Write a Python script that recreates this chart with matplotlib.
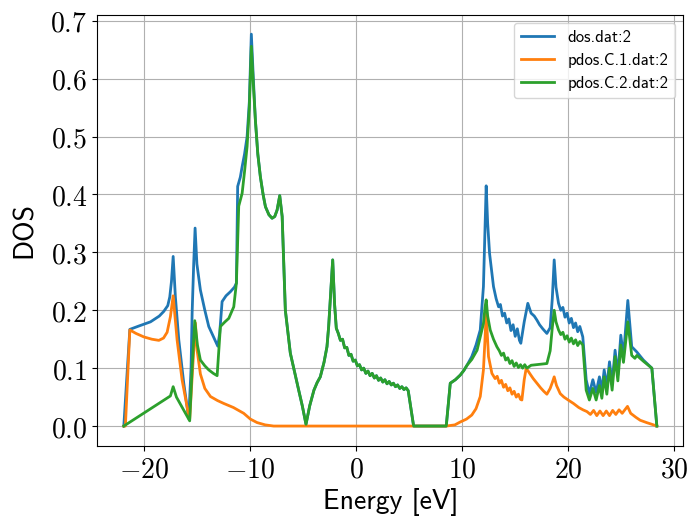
import matplotlib
matplotlib.use('Agg')
import matplotlib.pyplot as plt
from matplotlib.ticker import FuncFormatter

plt.rcParams['mathtext.fontset'] = 'cm'

# total DOS, left part (below the shared valence band region)
dos_left_e = [-21.95, -21.38, -20.5, -19.43, -18.6, -18.18, -17.8, -17.61, -17.45, -17.29,
              -17.08, -16.76, -16.29, -15.82, -15.6, -15.5, -15.35, -15.22, -15.05, -14.72,
              -14.3, -13.93, -13.5, -13.08, -12.9, -12.67, -12.3, -11.89, -11.5, -11.32,
              -11.2, -10.95, -10.78, -10.55, -10.31, -10.1, -9.91, -9.72]
dos_left_d = [0.0, 0.167, 0.173, 0.180, 0.190, 0.198, 0.208, 0.223, 0.250, 0.293,
              0.223, 0.149, 0.074, 0.013, 0.10, 0.195, 0.281, 0.342, 0.28, 0.235,
              0.200, 0.172, 0.155, 0.138, 0.160, 0.215, 0.225, 0.232, 0.240, 0.247,
              0.414, 0.430, 0.448, 0.470, 0.500, 0.560, 0.677, 0.600]

# C.2 projected, left part
pd2_left_e = [-21.95, -17.55, -17.29, -16.98, -15.73, -15.5, -15.25, -15.0, -14.72, -14.3,
              -13.93, -13.5, -13.14, -12.83, -12.4, -12.04, -11.57, -11.32, -11.1, -10.78,
              -10.55, -10.31, -10.1, -9.91, -9.72]
pd2_left_d = [0.0, 0.052, 0.068, 0.050, 0.009, 0.10, 0.182, 0.14, 0.114, 0.104,
              0.097, 0.091, 0.087, 0.172, 0.180, 0.186, 0.206, 0.247, 0.380, 0.402,
              0.440, 0.483, 0.550, 0.656, 0.590]

# region where dos and C.2 coincide
mid_e = [-9.53, -9.3, -9.06, -8.8, -8.58, -8.25, -7.95, -7.7, -7.48, -7.23,
         -7.0, -6.85, -6.7, -6.45, -6.23, -5.85, -5.44, -5.1, -4.75, -4.4,
         -4.0, -3.7, -3.4, -3.05, -2.77, -2.61, -2.45, -2.23, -2.05, -1.89,
         -1.7, -1.5, -1.3, -1.1, -0.9, -0.7, -0.5, -0.3, -0.1, 0.1,
         0.3, 0.5, 0.7, 0.9, 1.1, 1.3, 1.5, 1.7, 1.9, 2.1,
         2.3, 2.5, 2.7, 2.9, 3.1, 3.3, 3.5, 3.7, 3.9, 4.1,
         4.3, 4.5, 4.7, 4.9, 5.41, 8.49, 8.87, 9.35, 9.81, 10.15, 10.45]
mid_d = [0.529, 0.470, 0.431, 0.400, 0.379, 0.365, 0.359, 0.362, 0.373, 0.398,
         0.362, 0.280, 0.200, 0.160, 0.126, 0.095, 0.062, 0.035, 0.003, 0.035,
         0.062, 0.075, 0.085, 0.110, 0.137, 0.172, 0.220, 0.287, 0.210, 0.169,
         0.160, 0.148, 0.150, 0.135, 0.136, 0.122, 0.124, 0.112, 0.114, 0.104,
         0.106, 0.097, 0.100, 0.091, 0.095, 0.087, 0.091, 0.083, 0.087, 0.079,
         0.083, 0.076, 0.080, 0.073, 0.077, 0.071, 0.074, 0.068, 0.071, 0.065,
         0.068, 0.063, 0.066, 0.061, 0.0, 0.0, 0.074, 0.080, 0.088, 0.096, 0.105]

# total DOS, conduction part
dos_right_e = [10.9, 11.3, 11.7, 12.0, 12.15, 12.26, 12.4, 12.58, 12.95, 13.2,
               13.43, 13.6, 13.8, 14.0, 14.2, 14.4, 14.6, 14.8, 15.0, 15.2,
               15.4, 15.53, 15.85, 16.19, 16.5, 16.8, 17.05, 17.3, 17.6, 17.99,
               18.3, 18.5, 18.68, 18.85, 19.09, 19.3, 19.5, 19.7, 19.9, 20.1,
               20.3, 20.5, 20.7, 20.9, 21.1, 21.38, 21.7, 22.0, 22.33, 22.64,
               22.95, 23.18, 23.4, 23.65, 23.9, 24.15, 24.43, 24.69, 24.97, 25.22,
               25.63, 26.0, 26.48, 27.1, 27.9, 28.37]
dos_right_d = [0.120, 0.140, 0.166, 0.241, 0.340, 0.415, 0.350, 0.298, 0.241, 0.220,
               0.206, 0.210, 0.190, 0.195, 0.178, 0.185, 0.165, 0.175, 0.155, 0.168,
               0.148, 0.143, 0.180, 0.212, 0.195, 0.190, 0.183, 0.175, 0.168, 0.160,
               0.170, 0.220, 0.287, 0.240, 0.212, 0.200, 0.205, 0.188, 0.195, 0.178,
               0.186, 0.170, 0.178, 0.163, 0.172, 0.154, 0.080, 0.056, 0.080, 0.058,
               0.085, 0.062, 0.097, 0.068, 0.111, 0.074, 0.131, 0.088, 0.157, 0.120,
               0.217, 0.137, 0.128, 0.114, 0.100, 0.0]

# C.2 projected, conduction part
pd2_right_e = [10.9, 11.4, 12.0, 12.15, 12.26, 12.4, 12.64, 12.95, 13.27, 13.5,
               13.7, 13.9, 14.1, 14.3, 14.5, 14.7, 14.9, 15.1, 15.3, 15.5,
               15.7, 15.9, 16.1, 16.5, 17.0, 17.5, 17.99, 18.3, 18.5, 18.68,
               18.85, 19.09, 19.3, 19.5, 19.7, 19.9, 20.1, 20.3, 20.5, 20.7,
               20.9, 21.1, 21.38, 21.7, 22.0, 22.33, 22.64, 22.95, 23.18, 23.4,
               23.65, 23.9, 24.15, 24.43, 24.69, 24.97, 25.22, 25.63, 26.0, 26.3,
               26.48, 27.1, 27.9, 28.37]
pd2_right_d = [0.115, 0.131, 0.177, 0.205, 0.218, 0.190, 0.166, 0.150, 0.137, 0.130,
               0.122, 0.126, 0.114, 0.118, 0.108, 0.113, 0.103, 0.109, 0.101, 0.106,
               0.100, 0.106, 0.100, 0.105, 0.106, 0.107, 0.108, 0.130, 0.170, 0.200,
               0.180, 0.166, 0.158, 0.162, 0.150, 0.156, 0.145, 0.152, 0.142, 0.149,
               0.139, 0.146, 0.140, 0.062, 0.045, 0.065, 0.045, 0.070, 0.048, 0.085,
               0.055, 0.100, 0.062, 0.120, 0.078, 0.140, 0.110, 0.180, 0.122, 0.117,
               0.122, 0.112, 0.100, 0.0]

# C.1 projected
pd1_e = [-21.95, -21.8, -21.38, -20.8, -20.06, -19.3, -18.64, -18.2, -17.86, -17.55,
         -17.29, -16.92, -16.45, -15.82, -15.73, -15.45, -15.19, -15.03, -14.72, -14.3,
         -13.77, -13.1, -12.51, -11.6, -10.63, -10.0, -9.37, -8.6, -7.8, 8.49,
         9.3, 9.81, 10.4, 10.9, 11.3, 11.7, 12.0, 12.15, 12.26, 12.48,
         12.8, 13.1, 13.3, 13.5, 13.7, 13.9, 14.1, 14.3, 14.5, 14.7,
         14.9, 15.1, 15.3, 15.5, 15.63, 15.85, 16.04, 16.4, 16.7, 17.05,
         17.4, 17.7, 17.99, 18.3, 18.5, 18.68, 18.9, 19.25, 19.6, 20.0,
         20.5, 21.0, 21.4, 21.77, 22.1, 22.4, 22.7, 23.0, 23.3, 23.6,
         23.9, 24.2, 24.5, 24.8, 25.1, 25.35, 25.6, 25.9, 26.4, 26.8,
         27.4, 27.9, 28.37]
pd1_d = [0.0, 0.0, 0.166, 0.160, 0.154, 0.150, 0.148, 0.152, 0.162, 0.189,
         0.225, 0.149, 0.080, 0.018, 0.012, 0.100, 0.178, 0.131, 0.090, 0.065,
         0.051, 0.044, 0.039, 0.032, 0.022, 0.012, 0.006, 0.002, 0.0, 0.0,
         0.002, 0.007, 0.012, 0.019, 0.030, 0.051, 0.097, 0.150, 0.195, 0.120,
         0.091, 0.082, 0.086, 0.074, 0.079, 0.067, 0.072, 0.061, 0.066, 0.055,
         0.060, 0.050, 0.055, 0.046, 0.045, 0.080, 0.100, 0.090, 0.082, 0.074,
         0.066, 0.060, 0.055, 0.065, 0.075, 0.085, 0.070, 0.056, 0.050, 0.045,
         0.039, 0.032, 0.028, 0.025, 0.020, 0.027, 0.018, 0.026, 0.018, 0.026,
         0.018, 0.027, 0.020, 0.028, 0.022, 0.028, 0.034, 0.022, 0.015, 0.010,
         0.006, 0.003, 0.0]

dos_e = dos_left_e + mid_e + dos_right_e
dos_d = dos_left_d + mid_d + dos_right_d
pd2_e = pd2_left_e + mid_e + pd2_right_e
pd2_d = pd2_left_d + mid_d + pd2_right_d

fig, ax = plt.subplots(figsize=(6.89, 5.2), dpi=100)
fig.subplots_adjust(left=0.141, right=0.992, top=0.972, bottom=0.143)

ax.plot(dos_e, dos_d, linewidth=2.0, label='dos.dat:2')
ax.plot(pd1_e, pd1_d, linewidth=2.0, label='pdos.C.1.dat:2')
ax.plot(pd2_e, pd2_d, linewidth=2.0, label='pdos.C.2.dat:2')

ax.set_xticks([-20, -10, 0, 10, 20, 30])
ax.set_yticks([0.0, 0.1, 0.2, 0.3, 0.4, 0.5, 0.6, 0.7])
ax.xaxis.set_major_formatter(FuncFormatter(lambda v, p: r'$%d$' % v))
ax.yaxis.set_major_formatter(FuncFormatter(lambda v, p: r'$%.1f$' % v))
ax.tick_params(labelsize=20)

ax.set_xlabel('Energy [eV]', fontfamily='cmss10', fontsize=20, labelpad=3)
ax.set_ylabel('DOS', fontfamily='cmss10', fontsize=20, labelpad=10)
ax.grid(True)
ax.legend(loc='upper right', prop={'family': 'cmss10', 'size': 12})

plt.savefig('out.png')
